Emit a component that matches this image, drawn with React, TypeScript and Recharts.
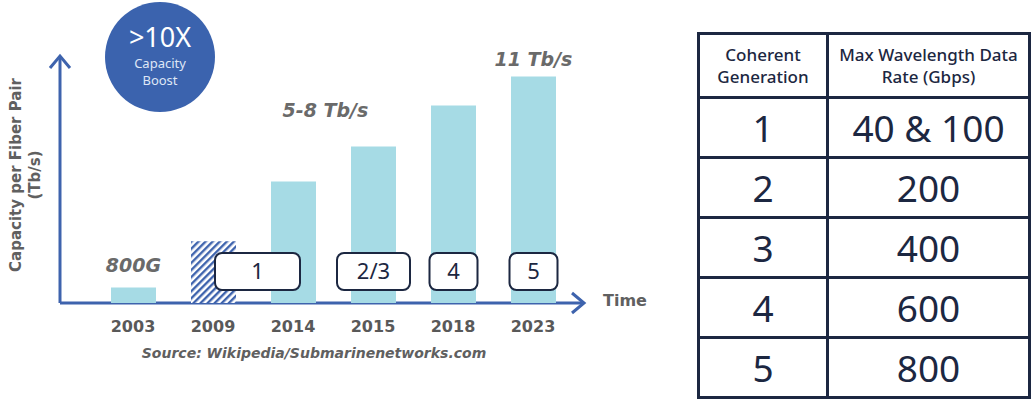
import { BarChart, Bar, XAxis, YAxis, Cell, LabelList, Customized } from 'recharts'

const years = ['2003', '2009', '2014', '2015', '2018', '2023']
const capacityTbps = [0.75, 3, 5.9, 7.6, 9.6, 11]
const notes = ['800G', '', '', '5-8 Tb/s', '', '11 Tb/s']
const generationTags = ['', '', '1', '2/3', '4', '5']
const hatchedYear = '2009'

const tableGenerations = ['1', '2', '3', '4', '5']
const tableRates = ['40 & 100', '200', '400', '600', '800']

const data = years.map((year, i) => ({
  year,
  capacity: capacityTbps[i],
  note: notes[i],
  tag: generationTags[i]
}))

const W = 680
const H = 413
const X_AXIS_H = 30
const M = { top: 56, right: 107, bottom: 110 - X_AXIS_H, left: 93 }
const AXIS_BLUE = '#3e63ad'
const NAVY = '#1c2741'
const GRAY = '#606060'
const BAR_BLUE = '#a6dbe5'
const BOLD = '"DejaVu Sans", sans-serif'

function Decor() {
  const x0 = M.left - 33
  const y0 = H - M.bottom - X_AXIS_H
  return (
    <g>
      <line x1={x0} y1={y0} x2={x0} y2={56} stroke={AXIS_BLUE} strokeWidth={3} />
      <polyline points={`${x0 - 10},${68} ${x0},${56} ${x0 + 10},${68}`} fill="none" stroke={AXIS_BLUE} strokeWidth={3} />
      <line x1={x0} y1={y0} x2={584} y2={y0} stroke={AXIS_BLUE} strokeWidth={3} />
      <polyline points={`572,${y0 - 10} 584,${y0} 572,${y0 + 10}`} fill="none" stroke={AXIS_BLUE} strokeWidth={3} />
      <text x={603} y={306} fontFamily={BOLD} fontWeight="bold" fontSize={16} fill={GRAY}>Time</text>
      <text transform="translate(21,175) rotate(-90)" textAnchor="middle" fontFamily={BOLD} fontWeight="bold" fontSize={15} fill={GRAY}>
        Capacity per Fiber Pair
      </text>
      <text transform="translate(40,175) rotate(-90)" textAnchor="middle" fontFamily={BOLD} fontWeight="bold" fontSize={15} fill={GRAY}>
        (Tb/s)
      </text>
      <text x={314} y={358} textAnchor="middle" fontFamily={BOLD} fontWeight="bold" fontStyle="italic" fontSize={14} fill={GRAY}>
        Source: Wikipedia/Submarinenetworks.com
      </text>
      <circle cx={160} cy={57} r={55} fill="#3b63ae" />
      <text x={160} y={47} textAnchor="middle" fontFamily='"Noto Sans", sans-serif' fontSize={27} fill="#ffffff">&gt;10X</text>
      <text x={160} y={68} textAnchor="middle" fontFamily='"Noto Sans", sans-serif' fontSize={13} fill="#dfe7f6">Capacity</text>
      <text x={160} y={85} textAnchor="middle" fontFamily='"Noto Sans", sans-serif' fontSize={13} fill="#dfe7f6">Boost</text>
    </g>
  )
}

function NoteLabel(props: any) {
  const { x, y, width, value } = props
  if (!value) return null
  const shifted = value === '5-8 Tb/s'
  const cx = x + width / 2 + (shifted ? -48 : 0)
  const ty = y - (shifted ? 30 : value === '800G' ? 16 : 11)
  return (
    <text x={cx} y={ty} textAnchor="middle" fontFamily={BOLD} fontWeight="bold" fontStyle="italic" fontSize={19} fill="#6a6a6a">
      {value}
    </text>
  )
}

function TagLabel(props: any) {
  const { x, width, y, height, value, index } = props
  if (!value) return null
  const bottom = y + height
  const w = index === 2 ? 85 : value.length > 1 ? 73 : 48
  const cx = x + width / 2 + (index === 2 ? -36 : 0)
  const top = bottom - 50
  return (
    <g>
      <rect x={cx - w / 2} y={top} width={w} height={37} rx={7} fill="#ffffff" stroke={NAVY} strokeWidth={2} />
      <text x={cx} y={top + 26} textAnchor="middle" fontFamily='"Noto Sans", sans-serif' fontSize={22} fill={NAVY}>
        {value}
      </text>
    </g>
  )
}

const cell: React.CSSProperties = {
  border: `3px solid ${NAVY}`,
  textAlign: 'center',
  padding: 0,
  color: NAVY
}

const headLine: React.CSSProperties = { display: 'block', lineHeight: '22px' }

export default function App() {
  return (
    <div style={{ position: 'absolute', left: 0, top: 0, width: 1034, height: 413, background: '#fff', fontFamily: '"Noto Sans", sans-serif' }}>
      <BarChart width={W} height={H} data={data} margin={M}>
        <defs>
          <pattern id="hatch" width={5} height={5} patternUnits="userSpaceOnUse" patternTransform="rotate(45)">
            <rect width={5} height={5} fill="#ffffff" />
            <rect width={2.4} height={5} fill={AXIS_BLUE} />
          </pattern>
        </defs>
        <XAxis
          dataKey="year"
          height={X_AXIS_H}
          axisLine={false}
          tickLine={false}
          interval={0}
          tickMargin={12}
          tick={{ fill: '#595959', fontSize: 16, fontWeight: 'bold', fontFamily: BOLD }}
        />
        <YAxis hide domain={[0, 12]} />
        <Customized component={Decor} />
        <Bar dataKey="capacity" barSize={45} fill={BAR_BLUE} isAnimationActive={false}>
          {data.map((d) => (
            <Cell key={d.year} fill={d.year === hatchedYear ? 'url(#hatch)' : BAR_BLUE} />
          ))}
          <LabelList dataKey="note" content={NoteLabel} />
          <LabelList dataKey="tag" content={TagLabel} />
        </Bar>
      </BarChart>
      <table
        style={{
          position: 'absolute',
          left: 697,
          top: 32,
          width: 334,
          height: 363,
          borderCollapse: 'collapse',
          tableLayout: 'fixed'
        }}
      >
        <thead>
          <tr style={{ height: 64 }}>
            <th style={{ ...cell, width: 126, fontSize: 17, fontWeight: 500 }}>
              <span style={headLine}>Coherent</span>
              <span style={headLine}>Generation</span>
            </th>
            <th style={{ ...cell, fontSize: 17, fontWeight: 500 }}>
              <span style={headLine}>Max Wavelength Data</span>
              <span style={headLine}>Rate (Gbps)</span>
            </th>
          </tr>
        </thead>
        <tbody>
          {tableGenerations.map((g, i) => (
            <tr key={g} style={{ height: 60 }}>
              <td style={{ ...cell, fontSize: 37 }}>{g}</td>
              <td style={{ ...cell, fontSize: 37 }}>{tableRates[i]}</td>
            </tr>
          ))}
        </tbody>
      </table>
    </div>
  )
}
